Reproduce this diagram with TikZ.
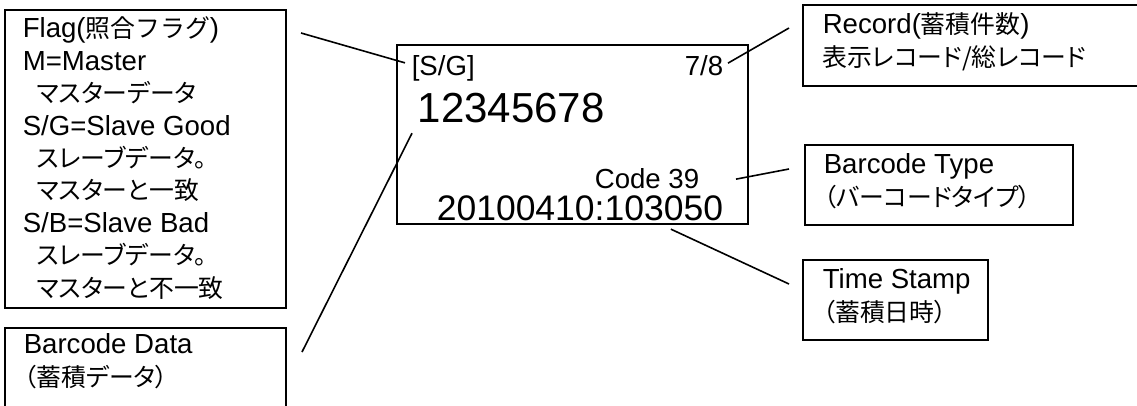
\documentclass[tikz,border=0pt]{standalone}
\usepackage{fontspec}
\setmainfont{Liberation Sans}
\newfontfamily\jp[Scale=0.9,RawFeature=+palt]{Noto Sans CJK JP}
\newfontfamily\jpfull[Scale=0.9]{Noto Sans CJK JP}
\usetikzlibrary{calc}

\begin{document}
\begin{tikzpicture}[x=1pt,y=-1pt,line width=1.6pt,
	box/.style={draw=black,anchor=north west,inner sep=0pt,outer sep=0pt},
	txt/.style={inner sep=0pt,anchor=base west,align=left,font=\fontsize{27.6}{32.4}\selectfont}]

	\useasboundingbox (0,0) rectangle (1137,405);

	% display
	\node[box,minimum width=351pt,minimum height=179pt] (disp) at (397,45) {};
	\node[txt] (sg) at (411,75) {[S/G]};
	\node[txt,anchor=base east] (rec) at (724,75) {7/8};
	\node[txt,font=\fontsize{42}{48}\selectfont] (num) at (417,122) {12345678};
	\node[txt,anchor=base east] (code) at (700,188) {Code 39};
	\node[txt,font=\fontsize{35.5}{40}\selectfont] (stamp) at (436,220) {20100410:103050};

	% callout boxes (multi-line text sits on its last baseline)
	\node[box,minimum width=281pt,minimum height=298pt] (flag) at (5,10) {};
	\node[txt] (flagtxt) at (22,297) {Flag({\jpfull 照合フラグ})\\M=Master\\\hspace*{0.5em}{\jp マスターデータ}\\S/G=Slave Good\\\hspace*{0.5em}{\jp スレーブデータ。}\\\hspace*{0.5em}{\jp マスターと一致}\\S/B=Slave Bad\\\hspace*{0.5em}{\jp スレーブデータ。}\\\hspace*{0.5em}{\jp マスターと不一致}};

	\node[box,minimum width=281pt,minimum height=90pt] (data) at (5,328) {};
	\node[txt] (datatxt) at (23,386) {Barcode Data\\{\jp （蓄積データ）}};

	\node[box,minimum width=342pt,minimum height=81pt] (recbox) at (803,5) {};
	\node[txt] (rectxt) at (822,66) {Record({\jpfull 蓄積件数})\\{\jp 表示レコード/総レコード}};

	\node[box,minimum width=268pt,minimum height=80pt] (type) at (805,145) {};
	\node[txt] (typetxt) at (823,206) {Barcode Type\\{\jp （バーコードタイプ）}};

	\node[box,minimum width=185pt,minimum height=80pt] (time) at (803,260) {};
	\node[txt] (timetxt) at (822,321) {Time Stamp\\{\jp （蓄積日時）}};

	% leader lines
	\draw ($(flag.north east)+(15,23)$) -- ($(sg.west)+(-6,-5)$);
	\draw ($(rec.east)+(4,-2)$) -- ($(recbox.north west)+(-14,23)$);
	\draw ($(num.south west)+(-5,10)$) -- ($(data.north east)+(16,24)$);
	\draw ($(code.east)+(36,1)$) -- ($(type.north west)+(-16,24)$);
	\draw ($(stamp.south east)+(-53,8)$) -- ($(time.north west)+(-14,24)$);

\end{tikzpicture}
\end{document}
